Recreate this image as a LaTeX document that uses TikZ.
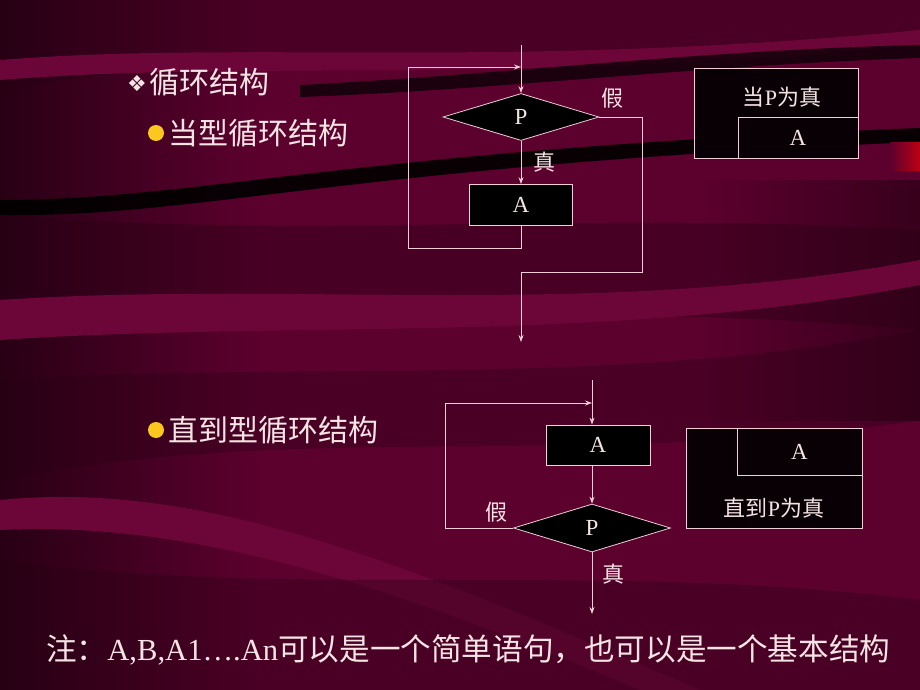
\documentclass[tikz,border=0pt]{standalone}
\usepackage{fontspec}
\setmainfont{Liberation Serif}
\newfontfamily\cjk{Noto Sans CJK SC}
\newfontfamily\symb{DejaVu Sans}
\usetikzlibrary{shapes.geometric,arrows.meta}
\definecolor{slidebg}{RGB}{92,0,46}
\definecolor{darkbg}{RGB}{40,0,20}
\definecolor{ribbon}{RGB}{108,5,56}
\definecolor{lineclr}{RGB}{240,205,215}
\definecolor{txtclr}{RGB}{245,228,228}
\definecolor{dotclr}{RGB}{250,200,30}
\begin{document}
\begin{tikzpicture}[x=1pt,y=-1pt,
  >={Stealth[length=7pt,width=5pt]},
  flow/.style={draw=lineclr,line width=0.8pt,fill=black,text=txtclr,font=\fontsize{23}{26}\selectfont,inner sep=0pt},
  procbox/.style={flow,rectangle},
  testbox/.style={flow,diamond,aspect=3.3},
  nsbox/.style={draw=lineclr,line width=0.8pt,fill=black!90!slidebg,rectangle,inner sep=0pt},
  lbl/.style={text=txtclr,font=\cjk\fontsize{22}{25}\selectfont,inner sep=0pt},
  head/.style={text=txtclr,font=\cjk\fontsize{30}{33}\selectfont,anchor=west,inner sep=0pt},
  conn/.style={draw=lineclr,line width=0.8pt}]

  % background
  \useasboundingbox (0,0) rectangle (920,690);
  \fill[slidebg] (0,0) rectangle (920,690);
  \shade[left color=darkbg,right color=slidebg] (0,0) rectangle (260,690);
  \shade[left color=slidebg,right color=darkbg!70!slidebg] (700,180) rectangle (920,420);
  \fill[darkbg,opacity=0.35] (0,0) -- (920,0) -- (920,40) .. controls (600,60) and (300,40) .. (0,90) -- cycle;
  \fill[ribbon] (0,60) .. controls (250,40) and (500,70) .. (920,30) -- (920,45) .. controls (500,85) and (250,60) .. (0,80) -- cycle;
  \fill[black,opacity=0.7] (300,85) .. controls (500,75) and (700,50) .. (920,45) -- (920,58) .. controls (700,65) and (500,90) .. (300,97) -- cycle;
  \fill[black,opacity=0.9] (0,200) .. controls (200,200) and (350,150) .. (920,128) -- (920,142) .. controls (350,165) and (200,218) .. (0,215) -- cycle;
  \fill[darkbg,opacity=0.4] (0,215) .. controls (300,240) and (600,210) .. (920,230) -- (920,330) .. controls (600,300) and (300,330) .. (0,290) -- cycle;
  \fill[ribbon] (0,300) .. controls (300,280) and (600,320) .. (920,260) -- (920,285) .. controls (600,345) and (300,320) .. (0,340) -- cycle;
  \fill[darkbg,opacity=0.35] (0,380) .. controls (300,360) and (600,390) .. (920,330) -- (920,420) .. controls (600,470) and (300,420) .. (0,480) -- cycle;
  \fill[ribbon] (0,500) .. controls (200,480) and (400,560) .. (700,690) -- (640,690) .. controls (400,590) and (200,520) .. (0,530) -- cycle;
  \fill[darkbg,opacity=0.35] (0,560) .. controls (300,600) and (600,560) .. (920,600) -- (920,690) -- (0,690) -- cycle;
  \shade[left color=slidebg,right color=red!60!slidebg] (890,142) rectangle (920,170);

  % headings
  \node[text=txtclr,font=\symb\fontsize{22}{24}\selectfont,inner sep=0pt] (sym) at (137,84) {❖};
  \node[head] (title) at (149,82) {循环结构};
  \fill[dotclr] (156,133) circle (8);
  \node[head] (whileh) at (168,133) {当型循环结构};
  \fill[dotclr] (156,430) circle (8);
  \node[head] (untilh) at (168,430) {直到型循环结构};

  % while loop
  \node[testbox,minimum width=156pt,minimum height=47pt] (P1) at (521,117) {P};
  \node[procbox,minimum width=103pt,minimum height=41pt] (A1) at (521,205) {A};
  \coordinate (in1) at (521,45);
  \coordinate (J1) at (521,67);
  \coordinate (L1) at (408,67);
  \coordinate (B1) at (408,248);
  \coordinate (R1) at (642,272);
  \coordinate (M1) at (521,272);
  \coordinate (out1) at (521,342);
  \draw[conn,->] (in1) -- (P1.north);
  \draw[conn,->] (P1.south) -- (A1.north);
  \draw[conn,->] (A1.south) |- (B1) -- (L1) -- (J1);
  \draw[conn,->] (P1.east) -| (R1) -- (M1) -- (out1);
  \node[lbl] (f1) at (612,98) {假};
  \node[lbl] (t1) at (544,162) {真};

  % until loop
  \node[procbox,minimum width=104pt,minimum height=40pt] (A2) at (598,445) {A};
  \node[testbox,minimum width=157pt,minimum height=48pt] (P2) at (592,528) {P};
  \coordinate (in2) at (592,380);
  \coordinate (J2) at (592,403);
  \coordinate (L2) at (445,403);
  \coordinate (out2) at (592,614);
  \draw[conn,->] (in2) -- (in2 |- A2.north);
  \draw[conn,->] (P2.north |- A2.south) -- (P2.north);
  \draw[conn,->] (P2.west) -| (L2) -- (J2);
  \draw[conn,->] (P2.south) -- (out2);
  \node[lbl] (f2) at (496,512) {假};
  \node[lbl] (t2) at (613,574) {真};

  % N-S diagrams
  \node[nsbox,minimum width=164pt,minimum height=90pt] (ns1) at (776,113) {};
  \node[nsbox,minimum width=120pt,minimum height=41pt] (ns1A) at (798,137.5) {};
  \node[lbl] (ns1t) at (782,97) {当{\rmfamily P}为真};
  \node[text=txtclr,font=\fontsize{23}{26}\selectfont] (ns1a) at (ns1A) {A};
  \node[nsbox,minimum width=176pt,minimum height=100pt] (ns2) at (774,478) {};
  \node[nsbox,minimum width=125pt,minimum height=47pt] (ns2A) at (799.5,451.5) {};
  \node[text=txtclr,font=\fontsize{23}{26}\selectfont] (ns2a) at (ns2A) {A};
  \node[lbl] (ns2t) at (774,508) {直到{\rmfamily P}为真};

  % note
  \node[text=txtclr,font=\fontsize{30.6}{34}\selectfont,anchor=west,inner sep=0pt] (note) at (46,650)
    {{\cjk 注：}A,B,A1….An{\cjk 可以是一个简单语句，也可以是一个基本结构}};
\end{tikzpicture}
\end{document}
